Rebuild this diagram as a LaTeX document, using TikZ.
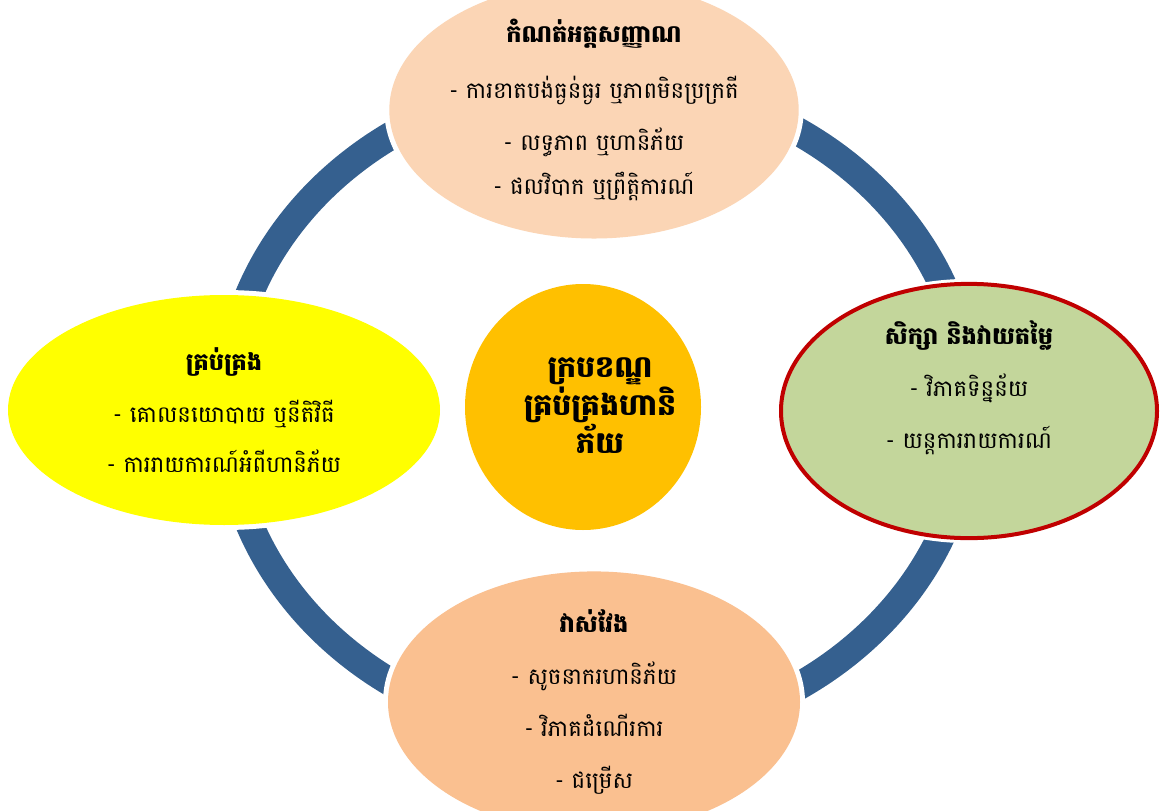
\documentclass[tikz,border=0pt]{standalone}
\usepackage{fontspec}
\usepackage{tikz}
\usetikzlibrary{shapes.geometric}
\newfontfamily\khmerfont[Script=Khmer]{Battambang}
\definecolor{ringblue}{RGB}{53,96,143}
\definecolor{peachlight}{RGB}{251,213,181}
\definecolor{peachdark}{RGB}{250,192,144}
\definecolor{leafgreen}{RGB}{195,214,155}
\definecolor{darkred}{RGB}{192,0,0}
\definecolor{amber}{RGB}{255,192,0}
\definecolor{brightyellow}{RGB}{255,255,0}
\newcommand{\headline}[1]{{\bfseries\fontsize{24}{52}\selectfont #1}}

\begin{document}
\begin{tikzpicture}[x=1pt,y=-1pt,
	bubble/.style ={ellipse, inner sep=0pt, align=center, font=\khmerfont\fontsize{22.8}{52}\selectfont,
		preaction={draw=white, line width=10pt}},
	hubtext/.style ={align=center, font=\khmerfont\bfseries\fontsize{30}{38}\selectfont}]
		\useasboundingbox (0,0) rectangle (1160,811);
		\coordinate (hub) at (598,409);
		\draw[ringblue, line width=28pt] (hub) ellipse [x radius=372pt, y radius=329pt];
		\node[bubble, fill=peachlight, minimum width=404pt, minimum height=214pt] (identify) at (594,110)
			{\headline{កំណត់អត្តសញ្ញាណ}\\[4pt] - ការខាតបង់ធ្ងន់ធ្ងរ ឬភាពមិនប្រក្រតី\\ - លទ្ធភាព ឬហានិភ័យ\\[-8pt] - ផលវិបាក ឬព្រឹត្តិការណ៍};
		\node[bubble, fill=leafgreen, draw=darkred, line width=4pt, minimum width=376pt, minimum height=210pt] (assess) at (969,411)
			{\headline{សិក្សា និងវាយតម្លៃ}\\ - វិភាគទិន្នន័យ\\ - យន្តការរាយការណ៍\\ };
		\node[bubble, fill=peachdark, minimum width=412pt, minimum height=218pt] (measure) at (594,702)
			{\headline{វាស់វែង}\\ - សូចនាករហានិភ័យ\\ - វិភាគដំណើរការ\\ - ជម្រើស};
		\node[bubble, fill=brightyellow, minimum width=432pt, minimum height=230pt] (manage) at (224,410)
			{\headline{គ្រប់គ្រង}\\ - គោលនយោបាយ ឬនីតិវិធី\\[-2pt] - ការរាយការណ៍អំពីហានិភ័យ};
		\node[ellipse, fill=amber, minimum width=236pt, minimum height=246pt] (framework) at (583,407) {};
		\node[hubtext] (frameworktext) at (600,406) {ក្របខណ្ឌ\\ គ្រប់គ្រងហានិ\\ ភ័យ};
	\end{tikzpicture}
\end{document}
